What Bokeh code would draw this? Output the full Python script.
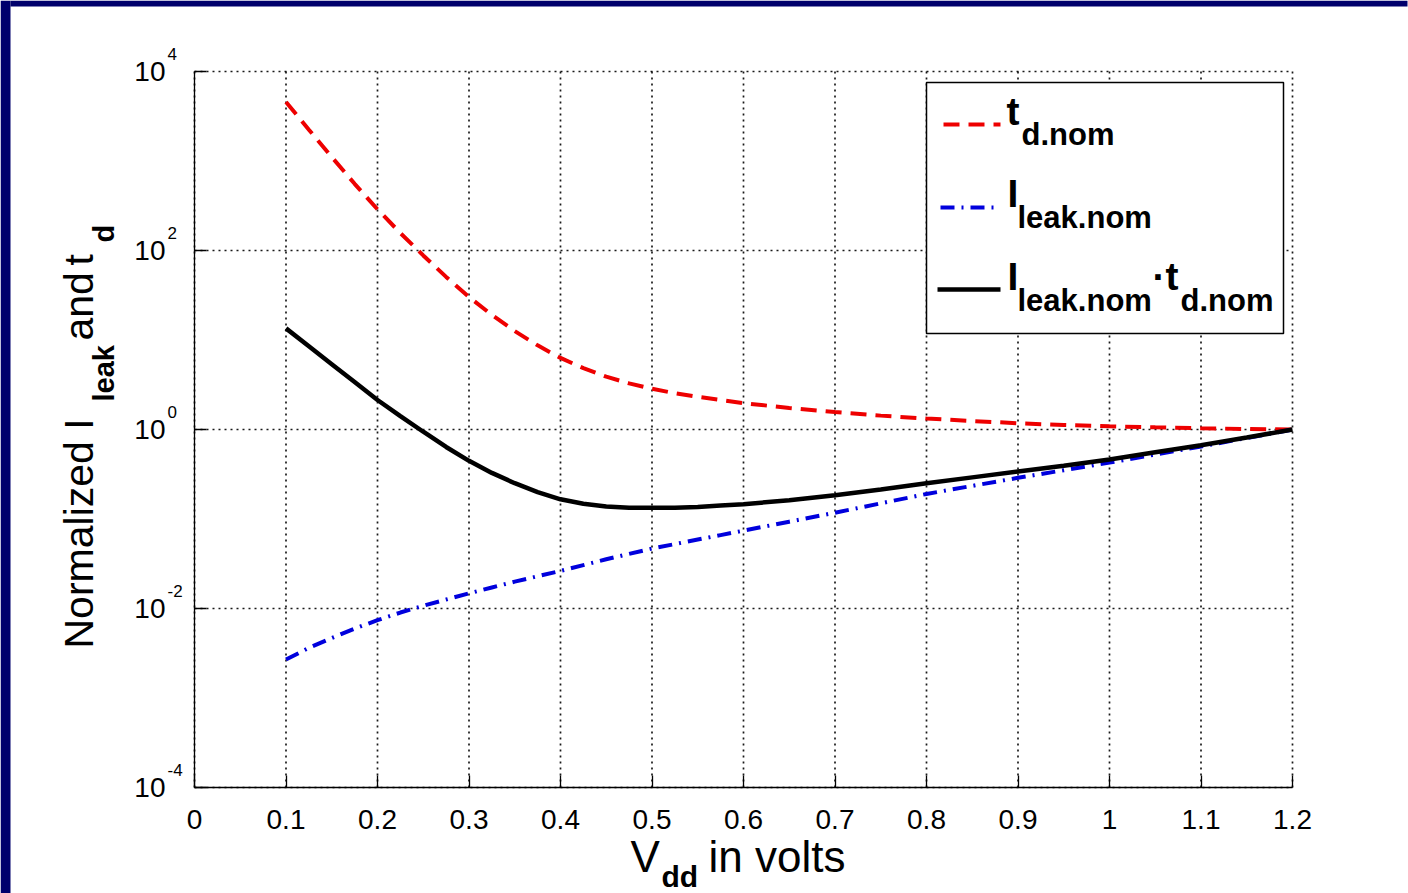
from bokeh.plotting import figure
from bokeh.models import FixedTicker, CustomJSTickFormatter, Label, LinearAxis, LogAxis
from bokeh.embed import file_html
from bokeh.resources import INLINE

# ---------------- data (log10 of normalized values) ----------------
vdd = [0.100, 0.125, 0.150, 0.175, 0.200, 0.225, 0.250, 0.275, 0.300, 0.325, 0.350,
       0.375, 0.400, 0.425, 0.450, 0.475, 0.500, 0.525, 0.550, 0.575, 0.600,
       0.65, 0.70, 0.75, 0.80, 0.85, 0.90, 0.95, 1.00, 1.05, 1.10, 1.15, 1.20]
td_nom_log10 = [3.66, 3.35, 3.045, 2.745, 2.46, 2.195, 1.945, 1.705, 1.48, 1.28, 1.10,
                0.94, 0.80, 0.685, 0.59, 0.515, 0.455, 0.405, 0.365, 0.33, 0.295,
                0.24, 0.195, 0.155, 0.122, 0.095, 0.07, 0.05, 0.035, 0.024, 0.014, 0.006, 0.0]
ileak_nom_log10 = [-2.57, -2.44, -2.33, -2.225, -2.13, -2.045, -1.97, -1.90, -1.83, -1.765, -1.70,
                   -1.64, -1.58, -1.515, -1.45, -1.39, -1.33, -1.28, -1.23, -1.18, -1.13,
                   -1.03, -0.93, -0.825, -0.72, -0.63, -0.54, -0.455, -0.37, -0.28, -0.19, -0.095, 0.0]
product_log10 = [1.13, 0.93, 0.73, 0.53, 0.33, 0.15, -0.025, -0.195, -0.35, -0.485, -0.60,
                 -0.70, -0.78, -0.83, -0.86, -0.875, -0.875, -0.875, -0.865, -0.85, -0.835,
                 -0.79, -0.735, -0.67, -0.60, -0.535, -0.47, -0.405, -0.335, -0.255, -0.175, -0.09, 0.0]

x_ticks = [0.0, 0.1, 0.2, 0.3, 0.4, 0.5, 0.6, 0.7, 0.8, 0.9, 1.0, 1.1, 1.2]
x_tick_labels = ["0", "0.1", "0.2", "0.3", "0.4", "0.5", "0.6", "0.7", "0.8", "0.9", "1", "1.1", "1.2"]
y_ticks = [1e-4, 1e-2, 1e0, 1e2, 1e4]
y_tick_base = ["10", "10", "10", "10", "10"]
y_tick_exp = ["-4", "-2", "0", "2", "4"]
y_tick_exp_vals = [-4, -2, 0, 2, 4]

# ---------------- page geometry (pixels) ----------------
W, H = 1408, 893
FL, FR, FT, FB = 194, 1292, 71, 787          # plot box inside the page
XMIN, XMAX = 0.0, 1.2
LMIN, LMAX = -4.0, 4.0
FONT = "Liberation Sans"
NAVY = "#00006c"
RED, BLUE = "#ee0000", "#0000dd"
MID = 0.347   # distance (in em) from the text middle to its baseline


def X(px):
    return XMIN + (px - FL) / (FR - FL) * (XMAX - XMIN)


def Y(py):
    return 10 ** (LMAX - (py - FT) / (FB - FT) * (LMAX - LMIN))


p = figure(width=W, height=H, x_range=(X(0), X(W)), y_range=(Y(H), Y(0)),
           y_axis_type="log", x_axis_location=None, y_axis_location=None, title=None,
           output_backend="svg", toolbar_location=None,
           min_border_left=0, min_border_right=0, min_border_top=0, min_border_bottom=0)
p.background_fill_color = "white"
p.border_fill_color = "white"
p.outline_line_color = None
p.grid.visible = False

# axes (drawn at the plot box edges, limited to the data limits)
xaxis = LinearAxis(fixed_location=10 ** LMIN, bounds=(XMIN, XMAX),
                   ticker=FixedTicker(ticks=x_ticks, minor_ticks=[]),
                   formatter=CustomJSTickFormatter(args=dict(xt=x_ticks, xl=x_tick_labels), code="""
const i = xt.findIndex(t => Math.abs(t - tick) < 1e-9);
return i >= 0 ? xl[i] : '';
"""))
yaxis = LogAxis(fixed_location=XMIN, bounds=(10 ** LMIN, 10 ** LMAX),
                ticker=FixedTicker(ticks=y_ticks, minor_ticks=[]),
                formatter=CustomJSTickFormatter(args=dict(yt=y_ticks, yl=y_tick_base), code="""
const i = yt.findIndex(t => Math.abs(Math.log10(t) - Math.log10(tick)) < 1e-6);
return i >= 0 ? yl[i] : '';
"""))
for ax in (xaxis, yaxis):
    ax.axis_line_color = "black"
    ax.axis_line_width = 1.3
    ax.major_tick_line_color = "black"
    ax.major_tick_line_width = 1.3
    ax.major_tick_in = 12
    ax.major_tick_out = 0
    ax.minor_tick_line_color = None
    ax.major_label_text_font = FONT
    ax.major_label_text_font_size = "28px"
    ax.major_label_text_color = "black"
xaxis.major_label_standoff = 22
yaxis.major_label_standoff = 29
p.add_layout(xaxis, "below")
p.add_layout(yaxis, "left")

# dotted grid at the tick positions, within the plot box
GRID = dict(line_color="black", line_width=1.7, line_dash="2 4", line_alpha=0.9)
p.segment(x0=x_ticks, x1=x_ticks, y0=[10 ** LMIN] * len(x_ticks), y1=[10 ** LMAX] * len(x_ticks), **GRID)
p.segment(x0=[XMIN] * len(y_ticks), x1=[XMAX] * len(y_ticks), y0=y_ticks, y1=y_ticks, **GRID)

# legend box (white, covers the grid)
p.quad(left=[X(926)], right=[X(1283)], top=[Y(82)], bottom=[Y(333)],
       fill_color="white", line_color="black", line_width=1.5)

# data curves
td = [10 ** v for v in td_nom_log10]
il = [10 ** v for v in ileak_nom_log10]
pr = [10 ** v for v in product_log10]
p.line(vdd, td, line_color=RED, line_width=4, line_dash="16 9")
p.line(vdd, il, line_color=BLUE, line_width=4, line_dash="14 7 2 7")
p.line(vdd, pr, line_color="black", line_width=4.5)

# legend samples
p.line([X(943), X(1000)], [Y(124), Y(124)], line_color=RED, line_width=4, line_dash="16 9")
p.line([X(940), X(1000)], [Y(207), Y(207)], line_color=BLUE, line_width=4, line_dash="14 7 2 7")
p.line([X(937), X(1000)], [Y(289), Y(289)], line_color="black", line_width=4.5)

# slide frame (dark blue band on the left and on top)
p.quad(left=[X(0), X(10)], right=[X(10), X(W - 1)], top=[Y(0), Y(0)], bottom=[Y(H), Y(6)],
       fill_color=NAVY, line_color=None)


def txt(px, py, s, size, bold=False, angle=0):
    """px, py: start of the text on its baseline (page pixels)."""
    if angle == 0:
        ax_, ay_ = px, py - MID * size
    else:  # rotated 90 deg: text runs upward, its baseline is on the right
        ax_, ay_ = px - MID * size, py
    p.add_layout(Label(x=X(ax_), y=Y(ay_), text=s, text_font=FONT, text_font_size=f"{size}px",
                       text_font_style="bold" if bold else "normal", text_align="left",
                       text_baseline="middle", text_color="black", angle=angle,
                       angle_units="deg"))


# y tick exponents (superscripts next to the "10" tick labels)
for e_txt, e_val in zip(y_tick_exp, y_tick_exp_vals):
    p.add_layout(Label(x=X(167), y=10 ** (e_val + (12 + MID * 17) / 89.5), text=e_txt,
                       text_font=FONT, text_font_size="17px", text_align="left",
                       text_baseline="middle", text_color="black"))

# legend texts
txt(1006, 125, "t", 39, True)
txt(1021, 145, "d.nom", 31, True)
txt(1007, 207, "I", 39, True)
txt(1017, 228, "leak.nom", 31, True)
txt(1007, 290, "I", 39, True)
txt(1017, 311, "leak.nom", 31, True)
txt(1152, 290, "\u00b7t", 39, True)
txt(1180, 311, "d.nom", 31, True)

# x-axis title
txt(630, 871, "V", 44)
txt(661, 886, "dd", 30, True)
txt(708, 871, "in volts", 44)

# y-axis title (rotated)
txt(93, 648, "Normalized I", 41, angle=90)
txt(114, 401, "leak", 29, True, angle=90)
txt(93, 340, "and", 41, angle=90)
txt(93, 265, "t", 41, angle=90)
txt(114, 242, "d", 29, True, angle=90)

open("out.html", "w").write(file_html(p, INLINE))
